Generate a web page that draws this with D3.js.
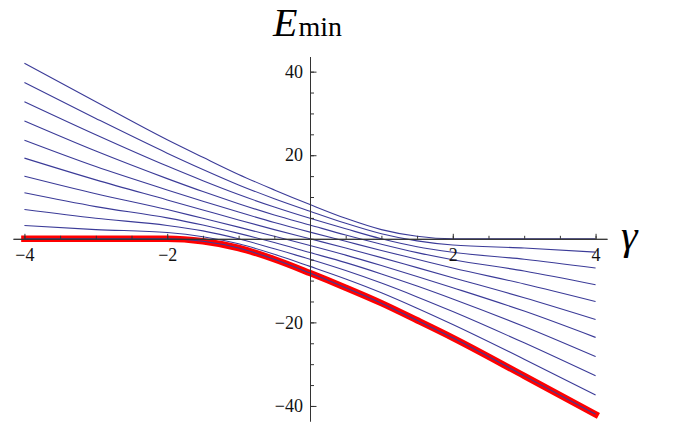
<!DOCTYPE html>
<html>
<head>
<meta charset="utf-8">
<script src="https://cdn.jsdelivr.net/npm/d3@7"></script>
<style>
	body { margin: 0; background: #fff; }
</style>
</head>
<body>
<svg id="chart"></svg>
<script>
// gamma samples shared by all curves
var gamma = [-4, -3, -2, -1.5, -1, -0.5, 0, 0.5, 1, 1.5, 2, 3, 4]

// one array per level (bottom to top at gamma = -4)
var level0 = [0, 0, 0, -0.6, -2.2, -4.9, -8.2, -11.7, -15.4, -19.5, -23.7, -32.8, -42.0]
var level1 = [3.2, 2.2, 1.5, 0.5, -1.2, -3.7, -6.6, -9.6, -12.9, -16.6, -20.5, -28.8, -37.4]
var level2 = [7.0, 4.9, 3.2, 1.9, 0.0, -2.4, -4.9, -7.6, -10.6, -13.9, -17.4, -24.9, -32.8]
var level3 = [11.0, 7.7, 5.0, 3.3, 1.3, -0.9, -3.3, -5.7, -8.4, -11.3, -14.4, -21.0, -28.2]
var level4 = [15.0, 10.8, 7.0, 4.9, 2.8, 0.6, -1.6, -3.9, -6.4, -9.0, -11.7, -17.3, -23.6]
var level5 = [19.3, 14.1, 9.3, 6.9, 4.5, 2.2, 0, -2.2, -4.5, -6.9, -9.3, -14.1, -19.3]
var level6 = [23.6, 17.3, 11.7, 9.0, 6.4, 3.9, 1.6, -0.6, -2.8, -4.9, -7.0, -10.8, -15.0]
var level7 = [28.2, 21.0, 14.4, 11.3, 8.4, 5.7, 3.3, 0.9, -1.3, -3.3, -5.0, -7.7, -11.0]
var level8 = [32.8, 24.9, 17.4, 13.9, 10.6, 7.6, 4.9, 2.4, 0.0, -1.9, -3.2, -4.9, -7.0]
var level9 = [37.4, 28.8, 20.5, 16.6, 12.9, 9.6, 6.6, 3.7, 1.2, -0.5, -1.5, -2.2, -3.2]
var level10 = [42.0, 32.8, 23.7, 19.5, 15.4, 11.7, 8.2, 4.9, 2.2, 0.6, 0, 0, 0]

var levels = [level0, level1, level2, level3, level4, level5, level6, level7, level8, level9, level10]

var xMajor = [-4, -2, 2, 4]
var yMajor = [-40, -20, 20, 40]

var width = 678
var height = 422

var svg = d3.select("#chart").attr("width", width).attr("height", height)

var xScale = d3.scaleLinear().domain([-4.16, 4.16]).range([13, 607])
var yScale = d3.scaleLinear().domain([-43.6, 43.6]).range([421, 56.6])

var line = d3
	.line()
	.x(function (d) {
		return xScale(d[0])
	})
	.y(function (d) {
		return yScale(d[1])
	})
	.curve(d3.curveMonotoneX)

function points(values) {
	return gamma.map(function (g, i) {
		return [g, values[i]]
	})
}

// lowest level at each gamma
var envelope = gamma.map(function (g, i) {
	return d3.min(levels, function (l) {
		return l[i]
	})
})

svg
	.append("path")
	.attr("d", line(points(envelope)))
	.attr("fill", "none")
	.attr("stroke", "#ff0000")
	.attr("stroke-width", 6.5)
	.attr("stroke-linecap", "square")

svg
	.selectAll(".level")
	.data(levels)
	.enter()
	.append("path")
	.attr("class", "level")
	.attr("d", function (d) {
		return line(points(d))
	})
	.attr("fill", "none")
	.attr("stroke", "#3b3b98")
	.attr("stroke-width", 1.1)

// axes through the origin, ticks pointing inward like Mathematica
var fmt = d3.format("d")

svg
	.append("g")
	.attr("transform", "translate(0," + yScale(0) + ")")
	.call(d3.axisBottom(xScale).tickValues(d3.range(-4, 4.01, 0.5)).tickSize(-3).tickSizeOuter(0).tickFormat(""))

svg
	.append("g")
	.attr("transform", "translate(0," + yScale(0) + ")")
	.call(d3.axisBottom(xScale).tickValues(xMajor).tickSize(-5).tickSizeOuter(0).tickPadding(9).tickFormat(fmt))

svg
	.append("g")
	.attr("transform", "translate(" + xScale(0) + ",0)")
	.call(d3.axisLeft(yScale).tickValues(d3.range(-40, 41, 5)).tickSize(-4).tickSizeOuter(0).tickFormat(""))

svg
	.append("g")
	.attr("transform", "translate(" + xScale(0) + ",0)")
	.call(d3.axisLeft(yScale).tickValues(yMajor).tickSize(-6.5).tickSizeOuter(0).tickPadding(7).tickFormat(fmt))

svg.selectAll(".domain, .tick line").attr("stroke", "#333")
svg.selectAll(".tick text").style("font-family", "Liberation Serif").style("font-size", "18px").attr("fill", "#111")

var title = svg.append("text").attr("x", 273).attr("y", 36).attr("fill", "#000").style("font-family", "Liberation Serif")
title.append("tspan").style("font-style", "italic").style("font-size", "40px").text("E")
title.append("tspan").style("font-size", "28px").attr("dx", 1).text("min")

svg
	.append("text")
	.attr("x", 621)
	.attr("y", 249)
	.attr("fill", "#000")
	.style("font-family", "Liberation Serif")
	.style("font-style", "italic")
	.style("font-size", "42px")
	.text("γ")
</script>
</body>
</html>
